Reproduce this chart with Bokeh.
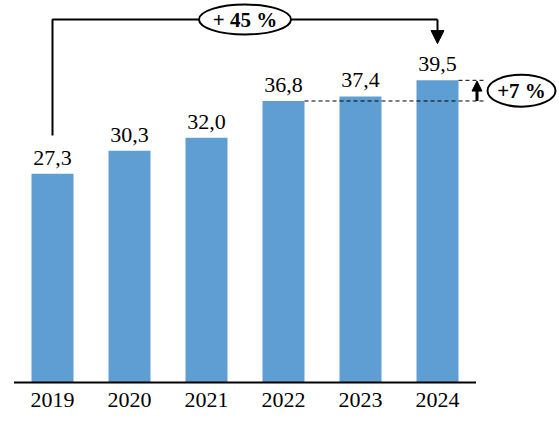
from bokeh.plotting import figure
from bokeh.models import Range1d, ColumnDataSource, Arrow, NormalHead
from bokeh.core.properties import value
from bokeh.embed import file_html
from bokeh.resources import INLINE

years = ["2019", "2020", "2021", "2022", "2023", "2024"]
values = [27.3, 30.3, 32.0, 36.8, 37.4, 39.5]
labels = ["27,3", "30,3", "32,0", "36,8", "37,4", "39,5"]
growth_total = "+ 45 %"
growth_last = "+7 %"

FONT = "Liberation Serif"
BAR_COLOR = "#5F9ED3"
PX_X = 77.0     # pixels per category step
PX_Y = 7.65     # pixels per value unit

xs = list(range(len(years)))

W, H = 559, 428
# category 0 at page x=52 ; baseline at page y=382
x0 = (0 - 52) / PX_X
y0 = (382 - H) / PX_Y
p = figure(width=W, height=H, output_backend="svg", toolbar_location=None,
           x_range=Range1d(x0, x0 + W / PX_X), y_range=Range1d(y0, y0 + H / PX_Y),
           min_border=0, outline_line_color=None)
p.axis.visible = False
p.grid.visible = False
p.background_fill_color = "white"

src = ColumnDataSource(dict(x=xs, top=values, lab=labels, yr=years))
bw = 42 / PX_X
p.vbar(x="x", top="top", bottom=0, width=bw, source=src,
       fill_color=BAR_COLOR, line_color=None)

# value labels
p.text(x="x", y="top", text="lab", source=src, text_font=value(FONT),
       text_font_size="22px", text_align="center", text_baseline="alphabetic",
       y_offset=-16, text_color="black")

# axis line and year labels
p.segment(x0=[xs[0] - 0.5], y0=[0], x1=[xs[-1] + 0.5], y1=[0],
          line_color="black", line_width=2)
p.text(x="x", y=0, text="yr", source=src, text_font=value(FONT),
       text_font_size="22px", text_align="center", text_baseline="alphabetic",
       y_offset=17, text_color="black")

# overall growth bracket
top_y = (382 - 19) / PX_Y
first, last = xs[0], xs[-1]
p.line(x=[first, first, last], y=[values[0] + 5.0, top_y, top_y],
       line_color="black", line_width=2)
p.add_layout(Arrow(x_start=last, y_start=top_y, x_end=last, y_end=values[-1] + 4.8,
                   line_color="black", line_width=2,
                   end=NormalHead(size=13, fill_color="black", line_color="black")))
mid = (first + last) / 2
p.ellipse(x=[mid], y=[top_y], width=92, height=30, width_units="screen",
          height_units="screen", fill_color="white", line_color="black", line_width=2)
p.text(x=[mid], y=[top_y], text=[growth_total], text_font=value(FONT),
       text_font_size="21px", text_font_style="bold", text_align="center",
       text_baseline="middle", text_color="black")

# last-year growth marker
right = last + bw / 2
xr = (483 - 52) / PX_X
p.segment(x0=[xs[3] + bw / 2, right], y0=[values[3], values[-1]],
          x1=[xr, xr], y1=[values[3], values[-1]],
          line_color="black", line_width=1, line_dash="4 3")
xa = (476.5 - 52) / PX_X
p.add_layout(Arrow(x_start=xa, y_start=values[3], x_end=xa, y_end=values[-1] - 0.1,
                   line_color="black", line_width=3,
                   end=NormalHead(size=10, fill_color="black", line_color="black")))
xe = (521 - 52) / PX_X
ye = (values[3] + values[-1]) / 2
p.ellipse(x=[xe], y=[ye], width=68, height=32, width_units="screen",
          height_units="screen", fill_color="white", line_color="black", line_width=2)
p.text(x=[xe], y=[ye], text=[growth_last], text_font=value(FONT),
       text_font_size="21px", text_font_style="bold", text_align="center",
       text_baseline="middle", text_color="black")

open("out.html", "w").write(file_html(p, INLINE))
